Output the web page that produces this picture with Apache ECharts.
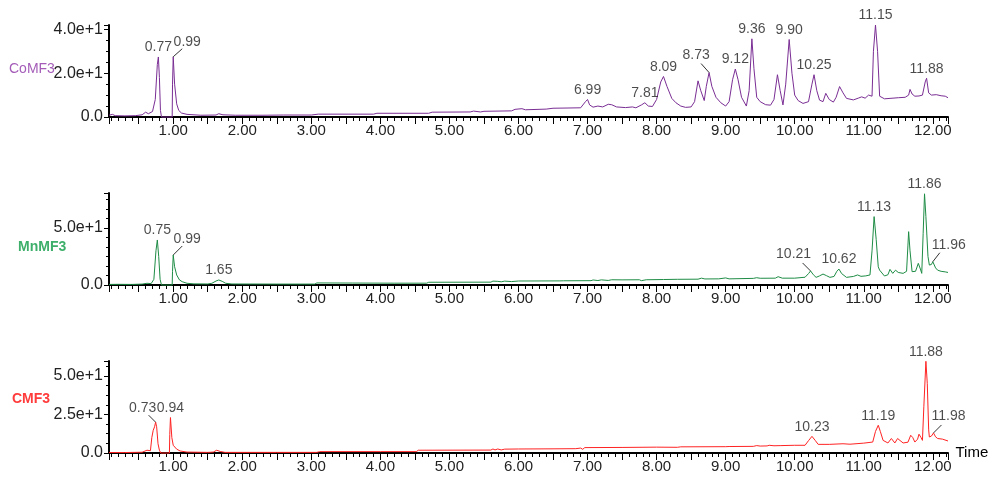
<!DOCTYPE html>
<html>
<head>
<meta charset="utf-8">
<title>Chromatograms</title>
<script src="https://cdn.jsdelivr.net/npm/echarts@6/dist/echarts.min.js"></script>
<style>
  html, body { margin: 0; padding: 0; background: #fff; }
  #chart { width: 994px; height: 479px; }
</style>
</head>
<body>
<div id="chart"></div>
<script>
// time axis (minutes)
const timeMin = 0.07
const timeMax = 12.22

const sampleNames = ['CoMF3', 'MnMF3', 'CMF3']
const yMax = [42, 80.7, 59.7]
const yStep = [20, 50, 25]
const yMinorSplit = [4, 6, 4]

// [time, intensity]
const comf3Trace = [
  [0.07, 0.8], [0.12, 1.2], [0.16, 0.6], [0.30, 0.5], [0.45, 0.6], [0.55, 1.0], [0.60, 2.2], [0.64, 1.5],
  [0.70, 2.5], [0.74, 8], [0.77, 24], [0.785, 27.4], [0.80, 18], [0.815, 3], [0.83, 0], [0.985, 0],
  [0.99, 15], [1.00, 27.5], [1.02, 15], [1.05, 6], [1.08, 3], [1.12, 1.8], [1.20, 1.2], [1.40, 0.8],
  [1.62, 0.9], [1.66, 1.5], [1.72, 1.0], [1.90, 0.8], [2.30, 0.8], [2.60, 0.9], [3.00, 0.9], [3.10, 1.3],
  [3.90, 1.3], [3.95, 1.7], [4.70, 1.7], [4.75, 2.2], [5.30, 2.3], [5.35, 2.7], [5.45, 2.3], [5.50, 2.6],
  [5.90, 2.8], [5.95, 3.5], [6.05, 3.8], [6.10, 3.3], [6.40, 3.6], [6.50, 4.0], [6.90, 4.2], [6.97, 7],
  [7.00, 8], [7.03, 5.5], [7.08, 4.5], [7.15, 5.0], [7.22, 4.6], [7.30, 5.8], [7.35, 5.6], [7.42, 4.6],
  [7.55, 4.3], [7.65, 4.6], [7.70, 4.2], [7.78, 5.5], [7.83, 6.5], [7.88, 5.0], [7.94, 4.8], [8.00, 8],
  [8.06, 16], [8.10, 18.5], [8.15, 14], [8.22, 8.5], [8.28, 6.5], [8.35, 5.0], [8.42, 4.4], [8.50, 4.6],
  [8.55, 7], [8.60, 16.5], [8.64, 12], [8.69, 7.5], [8.72, 14], [8.76, 20.3], [8.80, 14], [8.86, 9],
  [8.93, 6.5], [9.00, 5.0], [9.05, 7], [9.10, 17], [9.14, 21.9], [9.18, 17], [9.23, 9], [9.30, 5.0],
  [9.34, 12], [9.38, 35.7], [9.41, 22], [9.45, 9], [9.50, 7], [9.58, 5.6], [9.65, 5.4], [9.70, 8],
  [9.75, 19.3], [9.79, 12], [9.83, 5.5], [9.87, 15], [9.92, 35.4], [9.96, 20], [10.00, 10], [10.05, 7.5],
  [10.12, 6.2], [10.20, 7], [10.25, 15], [10.28, 19.3], [10.32, 12], [10.36, 7.7], [10.41, 7.0], [10.45, 10.8],
  [10.50, 8], [10.56, 6.8], [10.60, 9], [10.65, 13.9], [10.70, 11], [10.75, 8.5], [10.85, 7.8], [10.92, 8.6],
  [10.97, 9.2], [11.02, 8.6], [11.07, 10], [11.12, 9.5], [11.14, 30], [11.17, 42], [11.20, 30], [11.23, 9.5],
  [11.30, 8.3], [11.38, 8.5], [11.50, 8.8], [11.60, 9.0], [11.65, 10], [11.67, 12.6], [11.70, 10.5], [11.74, 9.5],
  [11.80, 9.6], [11.85, 10], [11.89, 16], [11.91, 17.7], [11.94, 11], [11.98, 10], [12.05, 10.2], [12.12, 9.7],
  [12.18, 9.5], [12.22, 8.8]
]

const mnmf3Trace = [
  [0.07, 0.5], [0.20, 0.6], [0.40, 0.5], [0.55, 0.8], [0.62, 1.5], [0.68, 1.2], [0.72, 5], [0.75, 30],
  [0.77, 39.5], [0.79, 25], [0.81, 5], [0.83, 0], [0.985, 0], [0.99, 12], [1.00, 26.3], [1.02, 16],
  [1.05, 8.8], [1.09, 4.5], [1.13, 2.9], [1.20, 1.5], [1.30, 1.0], [1.50, 0.9], [1.56, 1.5], [1.62, 3.5],
  [1.66, 4.4], [1.71, 3.2], [1.76, 1.5], [1.85, 0.9], [2.50, 0.8], [3.05, 0.8], [3.08, 1.8], [3.60, 1.7],
  [4.20, 1.6], [4.67, 1.6], [4.70, 2.4], [5.60, 2.5], [5.63, 3.4], [5.70, 3.2], [5.75, 2.8], [5.80, 3.4],
  [5.90, 3.0], [6.00, 3.5], [6.60, 3.6], [6.62, 4.4], [6.65, 3.7], [7.05, 3.8], [7.08, 4.4], [7.15, 3.9],
  [7.20, 4.5], [7.30, 4.0], [7.35, 4.6], [7.50, 4.5], [7.75, 4.6], [7.78, 3.8], [7.85, 4.6], [8.10, 4.8],
  [8.30, 5.0], [8.60, 5.1], [8.65, 6], [8.70, 5.3], [8.90, 5.4], [9.00, 6.2], [9.05, 5.4], [9.40, 5.8],
  [9.45, 6.4], [9.50, 5.9], [9.72, 6], [9.76, 7.3], [9.82, 6], [10.00, 6.0], [10.15, 6.8], [10.20, 10],
  [10.23, 12.3], [10.27, 9], [10.31, 6.7], [10.36, 8], [10.41, 9.6], [10.46, 8.2], [10.51, 6.7], [10.57, 7.5],
  [10.61, 12], [10.64, 14], [10.68, 10], [10.75, 6.7], [10.85, 7.5], [10.91, 8.8], [10.96, 7.6], [11.03, 8.0],
  [11.09, 8.8], [11.12, 30], [11.15, 60], [11.18, 40], [11.21, 16], [11.23, 13], [11.30, 7.9], [11.35, 9],
  [11.38, 13.7], [11.42, 10.2], [11.46, 13], [11.50, 11], [11.57, 10.2], [11.62, 12], [11.64, 35], [11.65, 46.8],
  [11.67, 30], [11.70, 11.7], [11.75, 12], [11.79, 19], [11.82, 14], [11.84, 10.2], [11.86, 45], [11.88, 80],
  [11.90, 60], [11.93, 25], [11.95, 17.5], [11.98, 18], [12.00, 20.4], [12.04, 15], [12.07, 13], [12.12, 12],
  [12.18, 11.5], [12.22, 11]
]

const cmf3Trace = [
  [0.07, 0.3], [0.30, 0.3], [0.55, 0.5], [0.62, 1.8], [0.67, 1.5], [0.69, 10], [0.71, 14.7], [0.73, 17],
  [0.745, 20], [0.76, 17], [0.78, 6], [0.80, 1.8], [0.82, 0], [0.945, 0], [0.95, 12], [0.96, 23],
  [0.98, 10], [1.00, 5], [1.05, 2.5], [1.10, 1.3], [1.20, 0.6], [1.50, 0.4], [1.58, 0.6], [1.63, 1.8],
  [1.68, 1.0], [1.75, 0.4], [2.50, 0.4], [3.08, 0.4], [3.12, 0.9], [4.00, 0.9], [4.52, 0.9], [4.55, 1.8],
  [5.60, 1.9], [5.63, 2.6], [5.66, 2.0], [5.70, 2.6], [5.75, 2.0], [5.80, 2.5], [6.00, 2.6], [6.50, 2.7],
  [6.83, 2.8], [6.85, 3.3], [6.90, 3.2], [6.93, 2.4], [6.96, 3.5], [7.50, 3.6], [8.00, 3.8], [8.30, 3.7],
  [8.35, 4.0], [9.00, 4.1], [9.02, 4.6], [9.05, 4.2], [9.40, 4.3], [9.45, 4.8], [9.50, 4.5], [9.60, 4.6],
  [9.63, 5.0], [9.70, 4.7], [9.80, 4.8], [10.00, 5.0], [10.15, 5.0], [10.20, 8], [10.25, 10.8], [10.30, 8],
  [10.34, 5.6], [10.50, 5.6], [10.70, 6.0], [10.80, 5.7], [11.00, 6.4], [11.13, 7.1], [11.17, 14], [11.21, 18],
  [11.24, 14], [11.28, 8.2], [11.35, 6.5], [11.40, 9.4], [11.45, 6.5], [11.49, 9.4], [11.57, 6.5], [11.64, 7],
  [11.68, 11.5], [11.71, 10], [11.74, 7.1], [11.78, 9], [11.80, 12.2], [11.83, 10], [11.85, 8.2], [11.87, 30],
  [11.90, 59.5], [11.92, 45], [11.94, 15], [11.95, 10.4], [11.98, 11], [12.01, 13], [12.04, 10.5], [12.07, 9.4],
  [12.14, 9], [12.22, 7.8]
]

// peak annotations: [time, apex, label]
const comf3Peaks = [
  [0.785, 27.4, '0.77'], [1.00, 27.5, '0.99'], [7.00, 8, '6.99'], [7.83, 6.5, '7.81'],
  [8.10, 18.5, '8.09'], [8.76, 20.3, '8.73'], [9.14, 21.9, '9.12'], [9.38, 35.7, '9.36'],
  [9.92, 35.4, '9.90'], [10.28, 19.3, '10.25'], [11.17, 42, '11.15'], [11.91, 17.7, '11.88']
]
const mnmf3Peaks = [
  [0.77, 39.5, '0.75'], [1.00, 26.3, '0.99'], [1.66, 4.4, '1.65'], [10.23, 12.3, '10.21'],
  [10.64, 14, '10.62'], [11.15, 60, '11.13'], [11.88, 80, '11.86'], [12.00, 20.4, '11.96']
]
const cmf3Peaks = [
  [0.745, 20, '0.73'], [0.96, 23, '0.94'], [10.25, 10.8, '10.23'], [11.21, 18, '11.19'],
  [11.90, 59.5, '11.88'], [12.01, 13, '11.98']
]

const traces = [comf3Trace, mnmf3Trace, cmf3Trace]
const peaks = [comf3Peaks, mnmf3Peaks, cmf3Peaks]

// labels set beside their peak: [label dx, label dy, leader end dx, leader end dy] in px
const leaderShift = {
  '0|0.99': [14, -5, 9, -8], '0|8.73': [-13, -8, -8, -9],
  '1|0.99': [14, -6, 9, -9], '1|10.21': [-17, -7, -8, -8], '1|11.96': [16, -7, 7, -9],
  '2|0.73': [-13, -5, -7, -7], '2|11.98': [15, -7, 8, -8]
}

const lineColors = ['#7A2E94', '#1E8C45', '#FF2323']
const nameColors = ['#A45CB8', '#3DAF6A', '#FF3B3B']
const font = 'Arial, "Liberation Sans", sans-serif'
const gridLeft = 109
const gridRight = 46
const gridTops = [25, 193, 361]
const gridHeight = 92
const pxPerTime = (994 - gridLeft - gridRight) / (timeMax - timeMin)

const chart = echarts.init(document.getElementById('chart'))

const isStep = (v, step) => Math.abs(v / step - Math.round(v / step)) < 1e-6

const grids = []
const xAxes = []
const yAxes = []
const series = []

for (let i = 0; i < 3; i++) {
  const pxPerY = gridHeight / yMax[i]
  grids.push({ left: gridLeft, right: gridRight, top: gridTops[i], height: gridHeight })
  xAxes.push({
    type: 'value',
    gridIndex: i,
    min: timeMin,
    max: timeMax,
    minInterval: 0.5,
    maxInterval: 0.5,
    name: i === 2 ? 'Time' : '',
    nameLocation: 'end',
    nameGap: 7,
    nameTextStyle: { fontSize: 15, color: '#000', fontFamily: font },
    axisLine: { onZero: false, lineStyle: { color: '#000', width: 2 } },
    axisTick: { length: 7, lineStyle: { color: '#000', width: 1 } },
    minorTick: { show: true, splitNumber: 5, length: 4, lineStyle: { color: '#000', width: 1 } },
    splitLine: { show: false },
    axisLabel: {
      margin: 6,
      fontSize: 15,
      color: '#222',
      fontFamily: font,
      formatter: v => (isStep(v, 1) ? v.toFixed(2) : '')
    }
  })
  yAxes.push({
    type: 'value',
    gridIndex: i,
    min: 0,
    max: yMax[i],
    interval: yStep[i],
    axisLine: { show: true, lineStyle: { color: '#000', width: 2 } },
    axisTick: { show: true, length: 5, lineStyle: { color: '#000', width: 1 } },
    minorTick: { show: true, splitNumber: yMinorSplit[i], length: 3, lineStyle: { color: '#000', width: 1 } },
    splitLine: { show: false },
    axisLabel: {
      margin: 6,
      fontSize: 16,
      color: '#222',
      fontFamily: font,
      formatter: v => {
        if (!isStep(v, yStep[i])) return ''
        return v === 0 ? '0.0' : v.toExponential(1)
      }
    }
  })
  series.push({
    name: sampleNames[i],
    type: 'line',
    xAxisIndex: i,
    yAxisIndex: i,
    data: traces[i],
    symbol: 'none',
    clip: false,
    lineStyle: { color: lineColors[i], width: 1 },
    z: 2
  })

  const leaders = []
  peaks[i].forEach(p => {
    const s = leaderShift[i + '|' + p[2]]
    if (s) {
      leaders.push([
        { coord: [p[0], p[1]] },
        { coord: [p[0] + s[2] / pxPerTime, p[1] - s[3] / pxPerY] }
      ])
    }
  })

  series.push({
    type: 'scatter',
    xAxisIndex: i,
    yAxisIndex: i,
    symbolSize: 1,
    itemStyle: { color: 'rgba(0,0,0,0)' },
    clip: false,
    z: 3,
    data: peaks[i].map(p => ({ name: p[2], value: [p[0], p[1]] })),
    label: {
      show: true,
      position: 'top',
      distance: 2,
      formatter: '{b}',
      fontSize: 14,
      color: '#1e1e1e',
      fontFamily: font
    },
    labelLayout: params => {
      const s = leaderShift[i + '|' + params.text]
      return s ? { dx: s[0], dy: s[1] } : {}
    },
    markLine: {
      silent: true,
      symbol: 'none',
      label: { show: false },
      lineStyle: { color: '#333', width: 1, type: 'solid' },
      data: leaders
    }
  })
}

const option = {
  animation: false,
  backgroundColor: '#fff',
  title: [
    { text: sampleNames[0], left: 9, top: 62, padding: 0, textStyle: { fontSize: 14, fontWeight: 'normal', color: nameColors[0], fontFamily: font } },
    { text: sampleNames[1], left: 18, top: 240, padding: 0, textStyle: { fontSize: 14, fontWeight: 'bold', color: nameColors[1], fontFamily: font } },
    { text: sampleNames[2], left: 12, top: 392, padding: 0, textStyle: { fontSize: 14, fontWeight: 'bold', color: nameColors[2], fontFamily: font } }
  ],
  grid: grids,
  xAxis: xAxes,
  yAxis: yAxes,
  series: series
}

chart.setOption(option)
</script>
</body>
</html>
